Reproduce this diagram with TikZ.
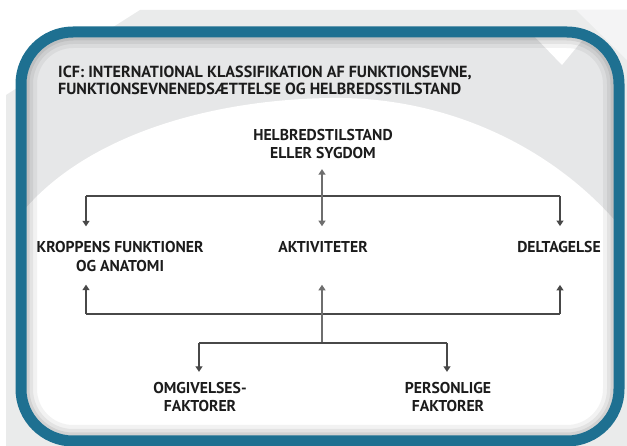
\documentclass[tikz,border=0pt]{standalone}
\usepackage{fontspec}
\newfontfamily\labfont{PT Sans}
\usetikzlibrary{arrows.meta,calc}
\definecolor{frameblue}{RGB}{30,112,145}
\definecolor{bggray}{RGB}{230,231,232}
\definecolor{txt}{RGB}{28,28,28}
\definecolor{ln}{RGB}{72,72,72}
\definecolor{lnv}{RGB}{110,110,110}
\begin{document}
\begin{tikzpicture}[x=1pt,y=-1pt,
  lab/.style={font=\labfont\bfseries\fontsize{15.7}{18.5}\selectfont, text=txt, align=center, inner sep=0pt},
  conn/.style={draw=ln, line width=1.3pt},
  vconn/.style={draw=lnv, line width=1.8pt},
  tip/.style={-{Triangle[width=7pt,length=5.5pt]}},
  frame/.style={rounded corners=52pt},
]
\useasboundingbox (0,0) rectangle (627,446);
% outside soft shading
\fill[bggray!85] (140,10) -- (627,10) -- (627,446) -- (6,446) -- (6,95) -- cycle;
\fill[bggray!45] (576,10) -- (627,10) -- (627,60) -- cycle;
% interior
\begin{scope}
  \clip[frame] (21,32) rectangle (619,441);
  \fill[bggray] (0,0) rectangle (627,446);
  \fill[white] (20,215) .. controls (80,140) and (200,100) .. (330,98)
     .. controls (450,96) and (560,150) .. (627,235) -- (627,446) -- (0,446) -- cycle;
  \fill[white] (535,37) -- (585,37) -- (562,65) -- cycle;
  \draw[black, opacity=0.05, line width=32pt, frame] (21,32) rectangle (619,441);
  \draw[black, opacity=0.06, line width=24pt, frame] (21,32) rectangle (619,441);
  \draw[black, opacity=0.07, line width=17pt, frame] (21,32) rectangle (619,441);
\end{scope}
\draw[frameblue, line width=11pt, frame] (21,32) rectangle (619,441);

% texts
\node[lab, align=left, anchor=west, font=\labfont\bfseries\fontsize{16.1}{17}\selectfont] (title) at (58,80)
  {ICF: INTERNATIONAL KLASSIFIKATION AF FUNKTIONSEVNE,\\FUNKTIONSEVNENEDSÆTTELSE OG HELBREDSSTILSTAND};
\node[lab] (helbred) at (323,144) {HELBREDSTILSTAND\\ELLER SYGDOM};
\node[lab] (kropp) at (120,256.5) {KROPPENS FUNKTIONER\\OG ANATOMI};
\node[lab] (aktiv) at (323,247) {AKTIVITETER};
\node[lab] (delt) at (559,247) {DELTAGELSE};
\node[lab] (omgiv) at (200,397) {OMGIVELSES-\\FAKTORER};
\node[lab] (person) at (448,397) {PERSONLIGE\\FAKTORER};

% junctions
\coordinate (jTL) at (86,196);
\coordinate (jTM) at (322,196);
\coordinate (jTR) at (560,196);
\coordinate (jBL) at (86,314);
\coordinate (jBM) at (322,314);
\coordinate (jBR) at (560,314);
\coordinate (jLM) at (322,343);
\coordinate (jLL) at (199,343);
\coordinate (jLR) at (447,343);

% top distribution
\draw[conn] (jTL) -- (jTR);
\draw[conn, tip, shorten >=15pt] (jTL) -- (jTL |- kropp.north);
\draw[conn, tip, shorten >=15pt] (jTR) -- (jTR |- delt.north);
\draw[vconn, {Triangle[width=7pt,length=5.5pt]}-{Triangle[width=7pt,length=5.5pt]}, shorten <=10pt, shorten >=15pt]
  (helbred.south -| jTM) -- (aktiv.north -| jTM);

% bottom collection
\draw[conn] (jBL) -- (jBR);
\draw[conn, tip, shorten >=13pt] (jBL) -- (jBL |- kropp.south);
\draw[conn, tip, shorten >=32pt] (jBR) -- (jBR |- delt.south);
\draw[vconn, tip, shorten >=32pt] (jLM) -- (jBM) -- (aktiv.south -| jBM);

% factors
\draw[conn] (jLL) -- (jLR);
\draw[conn, tip, shorten >=10pt] (jLL) -- (jLL |- omgiv.north);
\draw[conn, tip, shorten >=10pt] (jLR) -- (jLR |- person.north);
\end{tikzpicture}
\end{document}
